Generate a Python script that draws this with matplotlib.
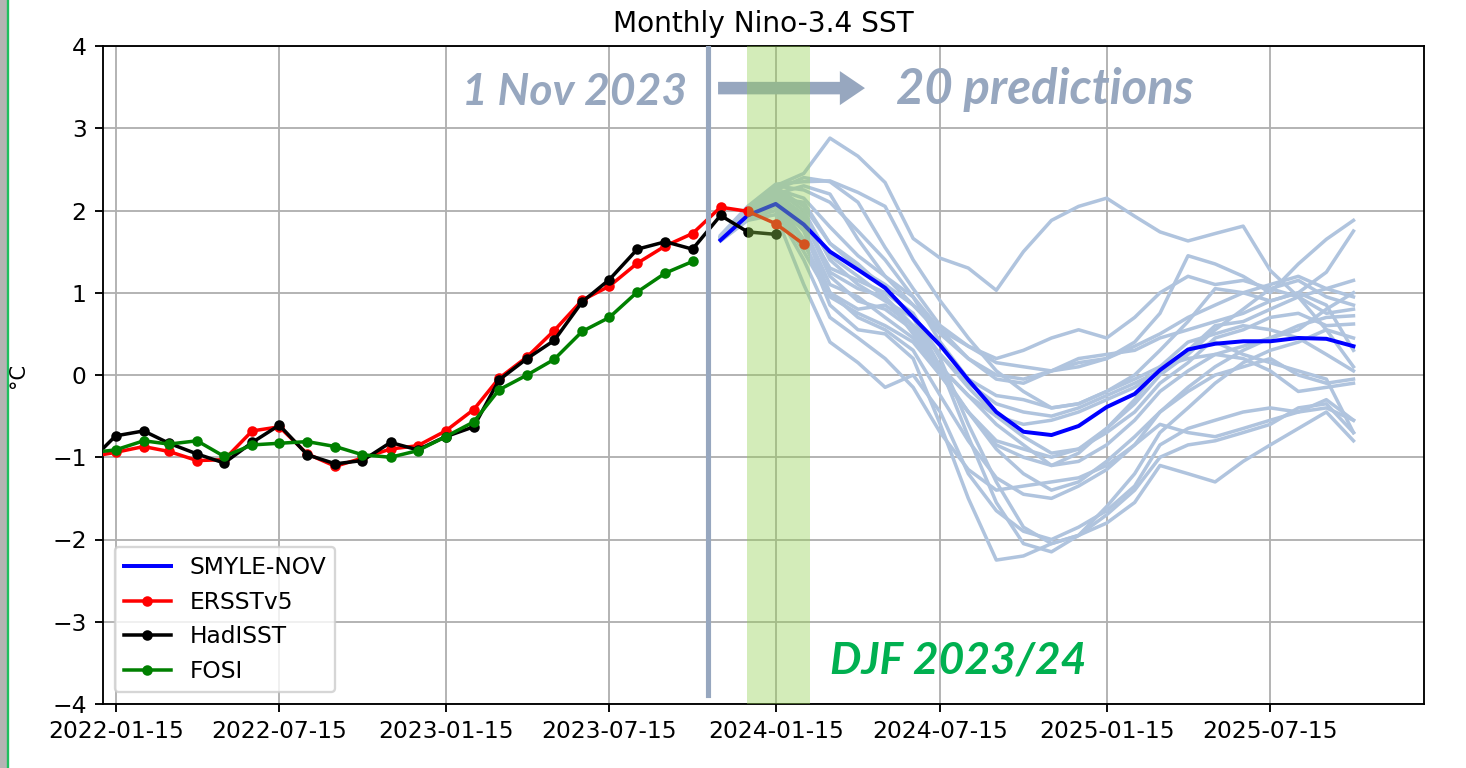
from datetime import datetime

import matplotlib.pyplot as plt
from matplotlib.dates import DateFormatter
from matplotlib.lines import Line2D
from matplotlib.patches import FancyArrow, Rectangle


def month_dates(year, month, count):
    # mid-month dates, one per month
    out = []
    for i in range(count):
        y, m = divmod(month - 1 + i, 12)
        out.append(datetime(year + y, m + 1, 15))
    return out


# observed Nino-3.4 anomalies, starting Dec 2021
ersst = [-1.00, -0.94, -0.87, -0.93, -1.04, -1.03, -0.68, -0.63, -0.96, -1.11,
         -1.01, -0.90, -0.86, -0.68, -0.42, -0.04, 0.22, 0.54, 0.91, 1.08,
         1.36, 1.57, 1.72, 2.04, 1.99, 1.84, 1.59]
hadisst = [-1.08, -0.74, -0.68, -0.83, -0.96, -1.07, -0.82, -0.61, -0.97, -1.08,
           -1.04, -0.82, -0.91, -0.75, -0.63, -0.06, 0.20, 0.42, 0.89, 1.16,
           1.53, 1.62, 1.53, 1.94, 1.74, 1.71]
fosi = [-0.95, -0.91, -0.80, -0.84, -0.80, -0.99, -0.85, -0.83, -0.81, -0.87,
        -0.97, -1.00, -0.92, -0.75, -0.57, -0.18, 0.00, 0.19, 0.53, 0.70,
        1.01, 1.24, 1.38]

# SMYLE November-start forecast, Nov 2023 - Oct 2025
smyle_mean = [1.64, 1.94, 2.08, 1.83, 1.50, 1.28, 1.06, 0.70, 0.36, -0.06,
              -0.45, -0.69, -0.73, -0.62, -0.39, -0.23, 0.06, 0.31, 0.38, 0.41,
              0.41, 0.45, 0.44, 0.35]
members = [
    [1.68, 2.02, 2.30, 2.45, 2.88, 2.66, 2.34, 1.66, 1.42, 1.30, 1.03, 1.50,
     1.88, 2.05, 2.15, 1.93, 1.74, 1.63, 1.72, 1.81, 1.27, 0.95, 0.55, 0.10],
    [1.66, 1.98, 2.25, 2.40, 2.35, 2.10, 1.55, 1.05, 0.60, 0.35, 0.15, 0.10,
     0.05, 0.10, 0.20, 0.40, 0.75, 1.45, 1.35, 1.20, 1.00, 1.35, 1.65, 1.88],
    [1.70, 2.05, 2.32, 2.35, 2.36, 2.22, 2.05, 1.40, 0.90, 0.45, 0.05, -0.20,
     -0.40, -0.35, -0.20, 0.00, 0.30, 0.65, 1.05, 1.00, 0.90, 1.00, 1.25, 1.75],
    [1.65, 1.95, 2.20, 2.30, 2.20, 1.65, 1.20, 0.85, 0.55, 0.35, 0.20, 0.30,
     0.45, 0.55, 0.45, 0.70, 1.00, 1.20, 1.10, 1.15, 1.05, 0.95, 1.05, 1.15],
    [1.64, 1.92, 2.15, 2.10, 1.60, 1.30, 1.10, 0.85, 0.50, 0.20, 0.00, -0.05,
     0.05, 0.15, 0.20, 0.35, 0.50, 0.70, 0.85, 1.00, 1.10, 1.20, 1.05, 0.95],
    [1.67, 2.00, 2.20, 1.95, 1.25, 1.05, 0.95, 0.50, 0.05, -0.45, -0.80, -0.90,
     -1.00, -0.90, -0.65, -0.35, 0.00, 0.25, 0.55, 0.80, 1.05, 1.15, 0.95, 0.85],
    [1.66, 1.95, 2.10, 1.75, 1.00, 0.80, 0.85, 0.60, 0.25, -0.10, -0.35, -0.45,
     -0.50, -0.40, -0.25, -0.10, 0.05, 0.30, 0.60, 0.65, 0.80, 0.95, 0.75, 0.80],
    [1.65, 1.90, 2.05, 1.50, 0.95, 0.75, 0.60, 0.40, 0.00, -0.45, -0.90, -1.20,
     -1.40, -1.30, -1.05, -0.75, -0.45, -0.15, 0.10, 0.30, 0.45, 0.60, 0.70, 0.72],
    [1.68, 1.98, 2.25, 2.00, 1.40, 1.10, 0.90, 0.70, 0.25, -0.15, -0.50, -0.75,
     -0.95, -0.90, -0.70, -0.45, -0.10, 0.15, 0.45, 0.55, 0.70, 0.75, 0.60, 0.62],
    [1.66, 1.96, 2.18, 1.85, 1.30, 1.15, 1.00, 0.75, 0.20, -0.60, -1.30, -1.85,
     -2.05, -1.95, -1.60, -1.20, -0.70, -0.40, -0.10, 0.15, 0.30, 0.40, 0.55, 0.45],
    [1.65, 1.93, 2.12, 1.65, 0.85, 0.55, 0.50, 0.20, -0.60, -1.50, -2.25, -2.20,
     -2.05, -1.95, -1.80, -1.55, -1.10, -1.20, -1.30, -1.05, -0.85, -0.65, -0.45, -0.80],
    [1.67, 1.99, 2.28, 2.05, 1.60, 1.35, 1.05, 0.70, 0.10, -0.75, -1.55, -2.05,
     -2.15, -1.95, -1.70, -1.40, -1.00, -0.85, -0.80, -0.70, -0.60, -0.40, -0.35, -0.70],
    [1.64, 1.90, 2.00, 1.40, 0.70, 0.45, 0.20, -0.15, -0.70, -1.15, -1.40, -1.35,
     -1.30, -1.25, -1.10, -0.85, -0.60, -0.70, -0.75, -0.65, -0.55, -0.45, -0.30, -0.55],
    [1.66, 1.97, 2.22, 1.90, 1.20, 0.90, 0.80, 0.55, 0.10, -0.25, -0.60, -0.85,
     -1.10, -1.05, -0.85, -0.55, -0.20, 0.05, 0.25, 0.35, 0.45, 0.55, 0.80, 1.00],
    [1.63, 1.88, 1.95, 1.10, 0.40, 0.15, -0.15, 0.00, -0.45, -1.20, -1.65, -1.90,
     -2.00, -1.85, -1.65, -1.35, -0.85, -0.65, -0.55, -0.45, -0.40, -0.45, -0.40, -0.55],
    [1.67, 2.00, 2.26, 2.15, 1.80, 1.45, 1.20, 0.95, 0.55, 0.20, -0.05, -0.10,
     0.05, 0.20, 0.25, 0.30, 0.45, 0.55, 0.65, 0.75, 0.90, 1.00, 0.85, 0.30],
    [1.65, 1.94, 2.15, 1.80, 1.10, 0.95, 0.70, 0.45, 0.00, -0.45, -0.85, -1.00,
     -1.10, -0.95, -0.65, -0.30, 0.10, 0.40, 0.50, 0.60, 0.55, 0.45, 0.25, 0.05],
    [1.68, 2.03, 2.30, 2.25, 2.10, 1.75, 1.40, 0.95, 0.40, -0.05, -0.25, -0.30,
     -0.40, -0.35, -0.20, -0.05, 0.10, 0.20, 0.25, 0.20, 0.05, -0.20, -0.15, -0.10],
    [1.66, 1.95, 2.08, 1.60, 1.00, 0.70, 0.55, 0.30, -0.25, -0.80, -1.25, -1.45,
     -1.50, -1.35, -1.15, -0.85, -0.45, -0.20, 0.00, 0.10, 0.20, 0.00, -0.10, -0.05],
    [1.64, 1.92, 2.18, 1.95, 1.45, 1.20, 0.95, 0.60, 0.10, -0.25, -0.50, -0.60,
     -0.55, -0.45, -0.30, -0.15, 0.05, 0.30, 0.40, 0.25, 0.15, 0.05, -0.05, -0.70],
]

xticks = ["2022-01-15", "2022-07-15", "2023-01-15", "2023-07-15",
          "2024-01-15", "2024-07-15", "2025-01-15", "2025-07-15"]
yticks = [-4, -3, -2, -1, 0, 1, 2, 3, 4]

obs_start = (2021, 12)
fcst_start = (2023, 11)
init_date = datetime(2023, 11, 1)
djf = (datetime(2023, 12, 14), datetime(2024, 2, 22))

grey_blue = "#97a7bf"

fig = plt.figure(figsize=(1466 / 168, 768 / 168), dpi=168)
ax = fig.add_axes([103 / 1466, 1 - 704 / 768, 1321 / 1466, 658 / 768])

fdates = month_dates(*fcst_start, len(smyle_mean))
for m in members:
    ax.plot(fdates, m, color="#b0c4de", lw=1.5, zorder=2)
ax.plot(fdates, smyle_mean, color="blue", lw=1.7, label="SMYLE-NOV", zorder=3)

ax.plot(month_dates(*obs_start, len(ersst)), ersst, ".-", color="red",
        ms=7, lw=1.5, label="ERSSTv5", zorder=4)
ax.plot(month_dates(*obs_start, len(hadisst)), hadisst, ".-", color="black",
        ms=7, lw=1.5, label="HadISST", zorder=4)
ax.plot(month_dates(*obs_start, len(fosi)), fosi, ".-", color="green",
        ms=7, lw=1.5, label="FOSI", zorder=4)

# DJF window and forecast start
ax.axvspan(djf[0], djf[1], color="#92d050", alpha=0.4, lw=0, zorder=5)
ax.axvline(init_date, ymin=0.014, ymax=1, color=grey_blue, lw=2.2, zorder=6)
ax.add_patch(FancyArrow(0.4656, 0.936, 0.1112, 0, width=0.019,
                        head_width=0.0517, head_length=0.019,
                        length_includes_head=True, color=grey_blue, lw=0,
                        transform=ax.transAxes, zorder=4.5))

ax.set_xlim(datetime(2022, 1, 1), datetime(2026, 1, 1))
ax.set_ylim(-4, 4)
ax.set_xticks([datetime.strptime(t, "%Y-%m-%d") for t in xticks])
ax.xaxis.set_major_formatter(DateFormatter("%Y-%m-%d"))
ax.set_yticks(yticks)
ax.grid(True)
ax.set_title("Monthly Nino-3.4 SST")
ax.set_ylabel("°C", fontsize=9)
ax.yaxis.set_label_coords(-0.057, 0.5)
ax.legend(loc="lower left")

ann = dict(family=["Lato", "DejaVu Sans"], weight="bold", style="italic")
fig.text(575 / 1466, 1 - 105 / 768, "1 Nov 2023", color=grey_blue,
         ha="center", va="baseline", fontsize=19, **ann)
fig.text(1045 / 1466, 1 - 104 / 768, "20 predictions", color=grey_blue,
         ha="center", va="baseline", fontsize=21, **ann)
fig.text(958 / 1466, 1 - 674 / 768, "DJF 2023/24", color="#00b050",
         ha="center", va="baseline", fontsize=19, **ann)

# slide edge on the left
fig.patches.append(Rectangle((0, 0), 7 / 1466, 1, transform=fig.transFigure,
                             color="#b4b4b4", lw=0))
fig.lines.append(Line2D([8 / 1466, 8 / 1466], [0, 1], transform=fig.transFigure,
                        color="#1fbf5f", lw=1))

fig.savefig("out.png", dpi=168)
